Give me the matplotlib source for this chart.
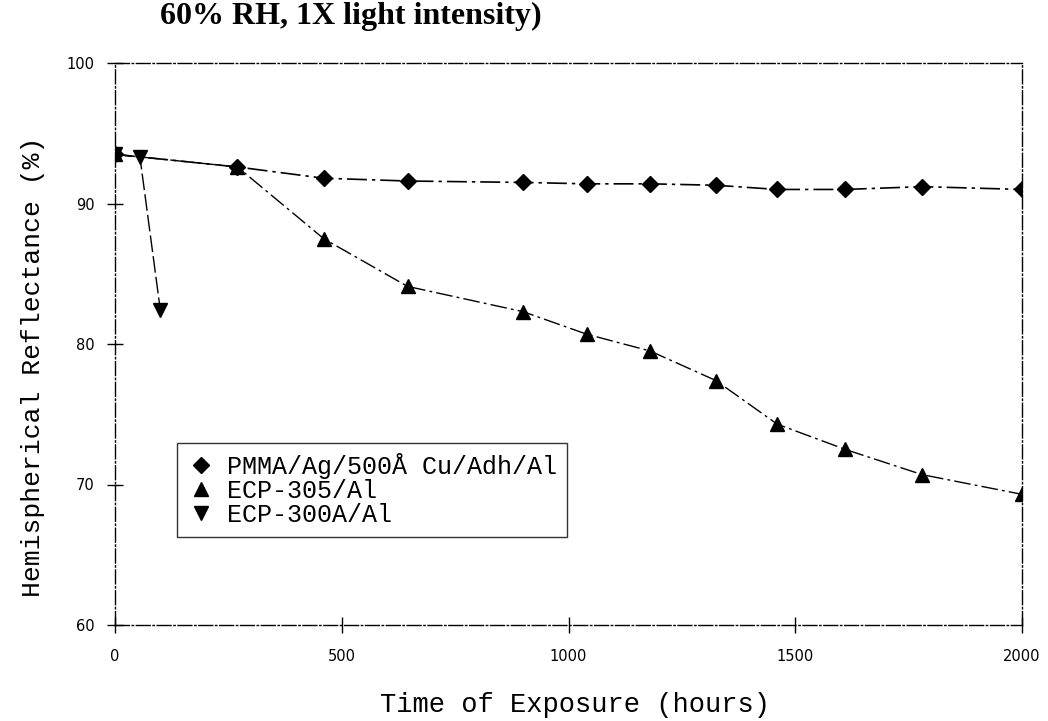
import matplotlib
matplotlib.use("Agg")
import matplotlib.pyplot as plt
from matplotlib.lines import Line2D

pmma_x = [0, 270, 460, 645, 900, 1040, 1180, 1325, 1460, 1610, 1780, 2000]
pmma_y = [93.5, 92.6, 91.8, 91.6, 91.5, 91.4, 91.4, 91.3, 91.0, 91.0, 91.2, 91.0]
ecp305_x = [0, 270, 460, 645, 900, 1040, 1180, 1325, 1460, 1610, 1780, 2000]
ecp305_y = [93.5, 92.6, 87.5, 84.1, 82.3, 80.7, 79.5, 77.4, 74.3, 72.5, 70.7, 69.3]
ecp300_x = [0, 55, 100]
ecp300_y = [93.5, 93.3, 82.4]
labels = ["PMMA/Ag/500Å Cu/Adh/Al", "ECP-305/Al", "ECP-300A/Al"]
xticks = [0, 500, 1000, 1500, 2000]
yticks = [60, 70, 80, 90, 100]

mono = "Liberation Mono"
W, H = 1048, 721

fig = plt.figure(figsize=(10.48, 7.21), dpi=100)
ax = fig.add_axes([115 / W, 1 - 625 / H, 907 / W, 562 / H])

ax.plot(pmma_x, pmma_y, color="black", lw=1.2, ls=(0, (12, 3, 2, 3)),
        marker="D", ms=8, zorder=3)
ax.plot(ecp305_x, ecp305_y, color="black", lw=1.0, ls=(0, (12, 3, 2, 3)),
        marker="^", ms=10, zorder=3)
ax.plot(ecp300_x, ecp300_y, color="black", lw=1.0, ls=(0, (12, 3)),
        marker="v", ms=10, zorder=3)

ax.set_xlim(0, 2000)
ax.set_ylim(60, 100)
ax.set_xticks(xticks)
ax.set_yticks(yticks)
ax.tick_params(direction="inout", length=11, width=1, labelsize=10.5)
ax.tick_params(axis="x", pad=12)
ax.tick_params(axis="y", pad=9)
for lab in ax.get_xticklabels() + ax.get_yticklabels():
    lab.set_fontfamily("DejaVu Sans")
for sp in ax.spines.values():
    sp.set_linestyle((0, (10, 2, 1, 2)))
    sp.set_linewidth(1.0)

fig.text(575 / W, 1 - 705 / H, "Time of Exposure (hours)", fontfamily=mono,
         fontsize=19.5, ha="center", va="center")
fig.text(33 / W, 1 - 367 / H, "Hemispherical Reflectance (%)", fontfamily=mono,
         fontsize=19, ha="center", va="center", rotation=90)

handles = [Line2D([], [], color="black", ls="none", marker=m, ms=s)
           for m, s in zip(["D", "^", "v"], [8, 10, 10])]
leg = ax.legend(handles, labels, loc="lower left",
                bbox_to_anchor=((177 - 115) / 907, (625 - 537) / 562),
                prop={"family": mono, "size": 18}, frameon=True, fancybox=False,
                edgecolor="black", handletextpad=0.5, borderpad=0.4,
                labelspacing=0.0, handlelength=1.1, borderaxespad=0)
leg.get_frame().set_linewidth(1.0)

fig.text(160 / W, 1 - 2 / H, "60% RH, 1X light intensity)", fontfamily="Liberation Serif",
         fontweight="bold", fontsize=23, ha="left", va="top")

fig.savefig("out.png", dpi=100)
